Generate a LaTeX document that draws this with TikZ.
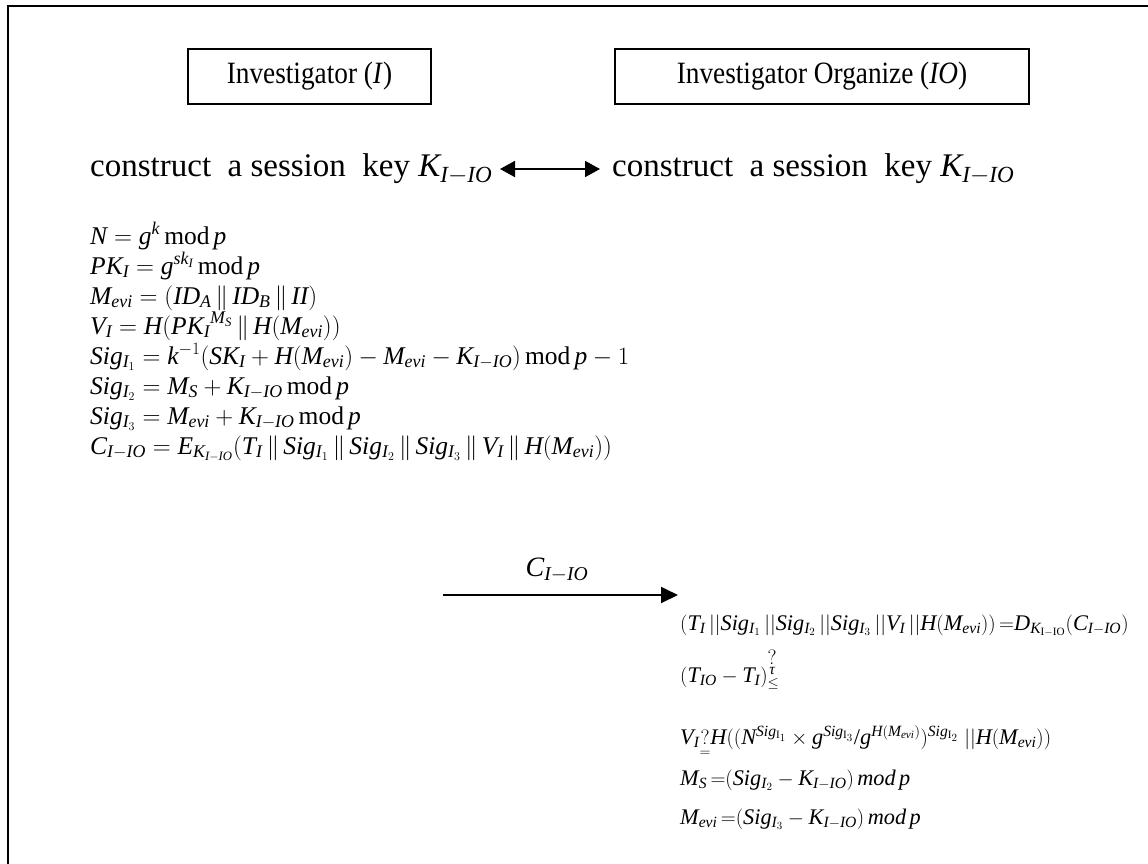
\documentclass[tikz,border=0pt]{standalone}
\usepackage{amsmath}
\usepackage{fontspec}
\setmainfont{Liberation Serif}
\newfontfamily\boxfont[FakeStretch=0.88]{Liberation Serif}
\edef\mylettersdecl{\noexpand\DeclareSymbolFont{letters}{TU}{\rmdefault}{m}{it}}
\mylettersdecl
\usetikzlibrary{arrows.meta}
\newcommand{\slashtxt}{\mathord{\text{/}}}
\newcommand{\tautxt}{\text{\itshape τ}}
\tikzset{
  actor/.style={draw, line width=1.5pt, minimum height=55pt, inner sep=0pt, font=\boxfont\fontsize{31}{34}\selectfont},
  keytext/.style={anchor=base west, inner sep=0pt, font=\fontsize{33}{36}\selectfont},
  lefteq/.style={anchor=base west, inner sep=0pt, font=\fontsize{25.5}{28}\selectfont},
  righteq/.style={anchor=base west, inner sep=0pt, font=\fontsize{22.3}{25}\selectfont},
  msg/.style={line width=1.8pt, -{Triangle[length=17pt,width=16pt]}},
  dbl/.style={line width=1.8pt, {Triangle[length=15pt,width=16pt]}-{Triangle[length=15pt,width=16pt]}},
  frame/.style={line width=2.5pt}
}
\begin{document}
\begin{tikzpicture}[x=1pt,y=-1pt]
\useasboundingbox (0,0) rectangle (1148,863);
\coordinate (fb) at (8,870);
\coordinate (ftl) at (8,6);
\coordinate (fr) at (1156,6);
\draw[frame] (fb) -- (ftl) -- (fr);

\node[actor, minimum width=243pt] (inv) at (309.5,76.5) {Investigator (\textit{I})};
\node[actor, minimum width=414pt] (org) at (822,76.5) {Investigator Organize (\textit{IO})};

\node[keytext] (kl) at (90,176) {construct\ \ a session\ \ key $K_{I-IO}$};
\node[keytext] (kr) at (612,176) {construct\ \ a session\ \ key $K_{I-IO}$};
\coordinate (dl) at (500,169);
\coordinate (dr) at (600,169);
\draw[dbl] (dl) -- (dr);

\node[lefteq] (e1) at (90,244) {$N = g^{k}\,\mathrm{mod}\,p$};
\node[lefteq] (e2) at (90,274) {$PK_{I} = g^{sk_{I}}\,\mathrm{mod}\,p$};
\node[lefteq] (e3) at (90,304) {$M_{evi} = (ID_{A}\,\|\,ID_{B}\,\|\,II)$};
\node[lefteq] (e4) at (90,334) {$V_{I} = H({PK_{I}}^{M_{S}}\,\|\,H(M_{evi}))$};
\node[lefteq] (e5) at (90,364) {$Sig_{I_1} = k^{-1}(SK_{I} + H(M_{evi}) - M_{evi} - K_{I-IO})\,\mathrm{mod}\,p - 1$};
\node[lefteq] (e6) at (90,394) {$Sig_{I_2} = M_{S} + K_{I-IO}\,\mathrm{mod}\,p$};
\node[lefteq] (e7) at (90,424) {$Sig_{I_3} = M_{evi} + K_{I-IO}\,\mathrm{mod}\,p$};
\node[lefteq] (e8) at (90,454) {$C_{I-IO} = E_{K_{I-IO}}(T_{I}\,\|\,Sig_{I_1}\,\|\,Sig_{I_2}\,\|\,Sig_{I_3}\,\|\,V_{I}\,\|\,H(M_{evi}))$};

\node[anchor=base, inner sep=0pt, font=\fontsize{28}{32}\selectfont] (cl) at (557,576) {$C_{I-IO}$};
\coordinate (ms) at (443,595);
\coordinate (me) at (678,595);
\draw[msg] (ms) -- (me);

\node[righteq] (r1) at (680,630) {$(T_{I}\,||Sig_{I_1}\,||Sig_{I_2}\,||Sig_{I_3}\,||V_{I}\,||H(M_{evi}))\,{=}D_{K_{\mathrm{I-IO}}}(C_{I-IO})$};
\node[righteq] (r2) at (680,682) {$(T_{IO} - T_{I})^{\overset{\textstyle ?}{\tautxt}}_{\leq}$};
\node[righteq] (r3) at (680,744) {$V_{I}\underset{=}{?}H((N^{Sig_{\mathrm{I}_1}}\times g^{Sig_{\mathrm{I}_3}}\slashtxt g^{H(M_{evi})})^{Sig_{\mathrm{I}_2}}\;||H(M_{evi}))$};
\node[righteq] (r4) at (680,785) {$M_{S}\,{=}(Sig_{I_2} - K_{I-IO})\,mod\,p$};
\node[righteq] (r5) at (680,824) {$M_{evi}\,{=}(Sig_{I_3} - K_{I-IO})\,mod\,p$};
\end{tikzpicture}
\end{document}
